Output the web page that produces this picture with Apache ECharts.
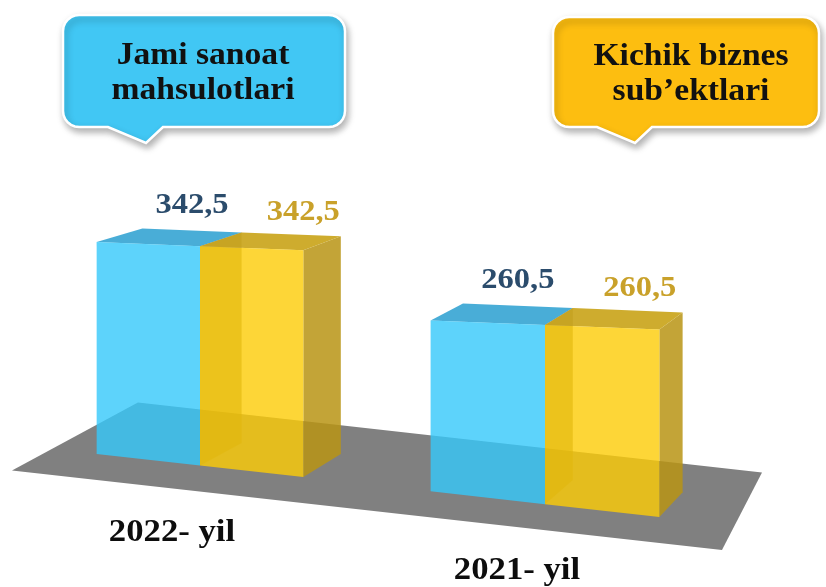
<!DOCTYPE html>
<html>
<head>
<meta charset="utf-8">
<script src="https://cdn.jsdelivr.net/npm/echarts@6/dist/echarts.min.js"></script>
<style>
html, body { margin: 0; padding: 0; background: #fff; }
#main { width: 826px; height: 587px; }
</style>
</head>
<body>
<div id="main"></div>
<script>
var years = ['2022- yil', '2021- yil'];
var seriesNames = ['Jami sanoat\nmahsulotlari', 'Kichik biznes\nsub’ektlari'];
var jamiSanoat = [342.5, 260.5];
var kichikBiznes = [342.5, 260.5];

var chart = echarts.init(document.getElementById('main'), null);

// fake 3D: depth edges run to a vanishing point, front edges are skewed
var VP = [1240, -100];
var DEPTH = 0.04;
var X0 = 97;
var SLOPE_BOTTOM = 0.112;
var SLOPE_TOP = 0.04;
var Y_MIN = 75;
var FONT = '"Liberation Serif", "Times New Roman", serif';

var barStyles = [
    { front: 'rgba(52,200,250,0.8)', top: 'rgba(58,166,212,0.92)', label: '#2b4c6c',
      side: false, dx: 0, dy: -25 },
    { front: 'rgba(253,204,5,0.8)', top: 'rgba(202,165,28,0.92)', left: 'rgba(120,100,40,0.6)',
      right: 'rgba(185,148,20,0.85)', label: '#c9a12a', side: true, dx: 12, dy: -22 }
];

function back(p) {
    return [p[0] + DEPTH * (VP[0] - p[0]), p[1] + DEPTH * (VP[1] - p[1])];
}
function fmt(v) {
    return v.toFixed(1).replace('.', ',');
}

function renderBar(sIdx) {
    return function (params, api) {
        var cat = api.value(0), val = api.value(1);
        var base = api.coord([cat, Y_MIN]);
        var c = base[0];
        var band = api.size([1, 0])[0];
        var w = band * 0.29 * (1 + 0.00032 * (c - X0));
        var xl = sIdx === 0 ? c - w : c;
        var xr = xl + w;
        var yTop = api.coord([cat, val])[1];
        function bot(x) { return [x, base[1] + SLOPE_BOTTOM * (x - X0)]; }
        function top(x) { return [x, yTop + SLOPE_TOP * (x - X0)]; }
        var fl = bot(xl), fr = bot(xr), tl = top(xl), tr = top(xr);
        var bfl = back(fl), bfr = back(fr), btl = back(tl), btr = back(tr);
        var st = barStyles[sIdx];
        var children = [];
        function poly(pts, fill) {
            children.push({ type: 'polygon', shape: { points: pts }, style: { fill: fill } });
        }
        if (st.side) {
            poly([fl, tl, btl, bfl], st.left);
            poly([fr, tr, btr, bfr], st.right);
        }
        poly([tl, tr, btr, btl], st.top);
        poly([fl, fr, tr, tl], st.front);
        children.push({
            type: 'text',
            x: (btl[0] + btr[0]) / 2 + st.dx,
            y: (btl[1] + btr[1]) / 2 + st.dy,
            scaleX: 1.12,
            style: {
                text: fmt(val), x: 0, y: 0,
                textAlign: 'center', textVerticalAlign: 'middle',
                font: 'bold 29px ' + FONT, fill: st.label
            }
        });
        return { type: 'group', children: children };
    };
}

function renderFloor(params, api) {
    var base = api.coord([0, Y_MIN]);
    var band = api.size([1, 0])[0];
    function at(u, off) {
        var x = base[0] + u * band;
        return [x, base[1] + SLOPE_BOTTOM * (x - X0) + off];
    }
    return {
        type: 'polygon',
        shape: { points: [at(-0.545, 26), at(-0.18, -56), at(1.629, -56), at(1.513, 26)] },
        style: { fill: '#808080' }
    };
}

function renderYear(params, api) {
    var cat = api.value(0);
    var p = api.coord([cat, Y_MIN]);
    return {
        type: 'text',
        x: p[0] - 28,
        y: p[1] + SLOPE_BOTTOM * (p[0] - X0) + 67,
        scaleX: 1.12,
        style: {
            text: years[cat], x: 0, y: 0,
            textAlign: 'center', textVerticalAlign: 'middle',
            font: 'bold 31px ' + FONT, fill: '#0d0d0d'
        }
    };
}

function calloutPoints(x0, y0, x1, y1, r, wl, tip, wr) {
    var pts = [];
    function arc(cx, cy, a0, a1) {
        for (var k = 0; k <= 6; k++) {
            var a = a0 + (a1 - a0) * k / 6;
            pts.push([cx + r * Math.cos(a), cy + r * Math.sin(a)]);
        }
    }
    arc(x0 + r, y0 + r, Math.PI, 1.5 * Math.PI);
    arc(x1 - r, y0 + r, 1.5 * Math.PI, 2 * Math.PI);
    arc(x1 - r, y1 - r, 0, 0.5 * Math.PI);
    pts.push([wr, y1], tip, [wl, y1]);
    arc(x0 + r, y1 - r, 0.5 * Math.PI, Math.PI);
    return pts;
}

function callout(pts, fill, text, cx, cy) {
    return {
        type: 'group',
        children: [
            {
                type: 'polygon',
                shape: { points: pts },
                style: {
                    fill: fill, stroke: '#fff', lineWidth: 2.5,
                    shadowBlur: 7, shadowOffsetX: 2, shadowOffsetY: 4,
                    shadowColor: 'rgba(0,0,0,0.3)'
                }
            },
            {
                type: 'text', x: cx, y: cy, scaleX: 1.05,
                style: {
                    text: text, x: 0, y: 0, lineHeight: 35,
                    textAlign: 'center', textVerticalAlign: 'middle',
                    font: 'bold 32px ' + FONT, fill: '#111'
                }
            }
        ]
    };
}

var option = {
    animation: false,
    grid: { left: 27.5, right: 108.5, top: 54, bottom: 133 },
    xAxis: { type: 'category', data: years, show: false },
    yAxis: { type: 'value', min: Y_MIN, max: 580, show: false },
    graphic: [
        callout(calloutPoints(63, 15, 345, 127, 16, 108, [146, 143], 163), '#41c7f4', seriesNames[0], 203, 73),
        callout(calloutPoints(553, 17, 819, 127, 16, 597, [635, 143], 652), '#fdbe10', seriesNames[1], 691, 74)
    ],
    series: [
        { type: 'custom', name: 'floor', renderItem: renderFloor, data: [[0, Y_MIN]], silent: true },
        { type: 'custom', name: seriesNames[0], renderItem: renderBar(0),
          data: jamiSanoat.map(function (v, i) { return [i, v]; }) },
        { type: 'custom', name: seriesNames[1], renderItem: renderBar(1),
          data: kichikBiznes.map(function (v, i) { return [i, v]; }) },
        { type: 'custom', name: 'years', renderItem: renderYear, silent: true,
          data: years.map(function (y, i) { return [i, Y_MIN]; }) }
    ]
};

chart.setOption(option);

window.addEventListener('resize', function () {
    chart.resize();
});
</script>
</body>
</html>
